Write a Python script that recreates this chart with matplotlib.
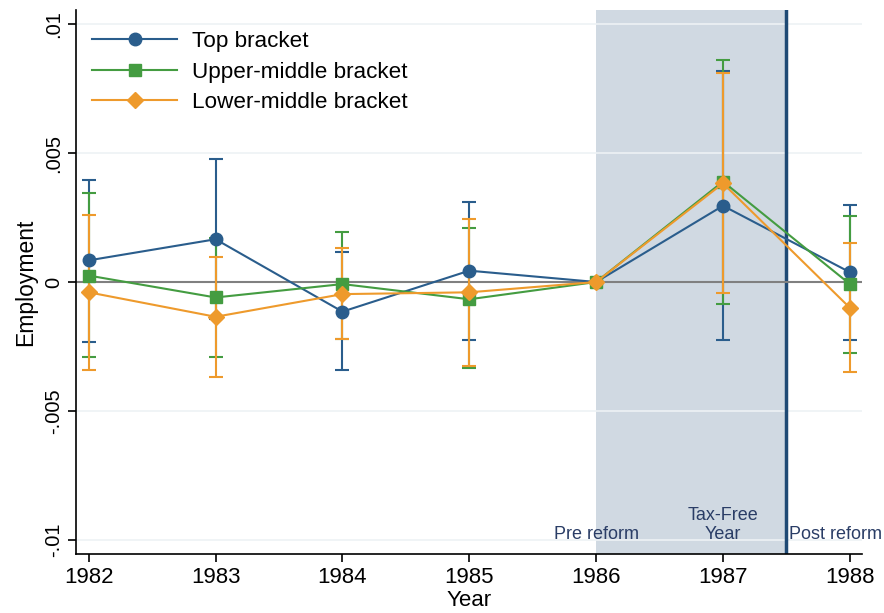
import matplotlib
matplotlib.use("Agg")
import matplotlib.pyplot as plt
import numpy as np
from matplotlib.lines import Line2D

years = [1982, 1983, 1984, 1985, 1986, 1987, 1988]

top = [0.00084, 0.00166, -0.00115, 0.00044, 0.0, 0.00296, 0.00038]
top_hi = [0.00396, 0.00476, 0.00117, 0.00312, 0.0, 0.00818, 0.00299]
top_lo = [-0.00233, -0.00144, -0.00342, -0.00225, 0.0, -0.00225, -0.00225]

upper = [0.00025, -0.00060, -0.00008, -0.00067, 0.0, 0.00390, -0.00008]
upper_hi = [0.00344, 0.00169, 0.00195, 0.00208, 0.0, 0.00860, 0.00258]
upper_lo = [-0.00292, -0.00290, -0.00221, -0.00334, 0.0, -0.00087, -0.00274]

lower = [-0.00040, -0.00135, -0.00047, -0.00040, 0.0, 0.00383, -0.00100]
lower_hi = [0.00261, 0.00097, 0.00132, 0.00246, 0.0, 0.00813, 0.00153]
lower_lo = [-0.00340, -0.00369, -0.00221, -0.00326, 0.0, -0.00044, -0.00351]

series = [
    ("Top bracket", top, top_lo, top_hi, "#2a5d8c", "o", 9),
    ("Upper-middle bracket", upper, upper_lo, upper_hi, "#449c41", "s", 8),
    ("Lower-middle bracket", lower, lower_lo, lower_hi, "#ee9a2c", "D", 8),
]

plt.rcParams["font.family"] = ["Liberation Sans", "DejaVu Sans"]

fig = plt.figure(figsize=(8.84, 6.13), dpi=100)
ax = fig.add_axes([0.086, 0.0962, 0.889, 0.8875])

ax.axvspan(1986, 1987.5, color="#d0d9e2", zorder=0, lw=0)
ax.axvline(1987.5, color="#1f4a75", lw=2.5, zorder=1)
for g in [-0.01, -0.005, 0.005, 0.01]:
    ax.axhline(g, color="#edf2f5", lw=1.2, zorder=0.5)
ax.axhline(0, color="#808080", lw=1.5, zorder=1)

handles = []
for name, vals, lo, hi, col, mk, ms in series:
    v = np.array(vals)
    err = np.vstack([v - np.array(lo), np.array(hi) - v])
    mask = err.sum(axis=0) > 0
    ax.errorbar(np.array(years)[mask], v[mask], yerr=err[:, mask], fmt="none",
                ecolor=col, elinewidth=1.5, capsize=5, capthick=1.5, zorder=2)
    ax.plot(years, v, color=col, lw=1.5, marker=mk, ms=ms, zorder=3)
    handles.append(Line2D([], [], color=col, lw=1.5, marker=mk, ms=ms, label=name))

ax.set_xlim(1981.9, 1988.095)
ax.set_ylim(-0.01056, 0.01056)
ax.set_xticks(years)
ax.set_xticklabels([str(y) for y in years], fontsize=16)
ax.set_yticks([-0.01, -0.005, 0, 0.005, 0.01])
ax.set_yticklabels(["-.01", "-.005", "0", ".005", ".01"], rotation=90, va="center",
                   fontsize=14.5)
ax.tick_params(direction="out", length=6, width=1.2)
ax.set_xlabel("Year", fontsize=16, labelpad=1)
ax.set_ylabel("Employment", fontsize=16.5, labelpad=5)
for s in ["top", "right"]:
    ax.spines[s].set_visible(False)
for s in ["left", "bottom"]:
    ax.spines[s].set_linewidth(1.2)

txt = dict(fontsize=13, color="#2a3d66", zorder=4)
ax.text(1986, -0.01015, "Pre reform", ha="center", va="bottom", **txt)
ax.text(1987, -0.01015, "Tax-Free\nYear", ha="center", va="bottom", **txt)
ax.text(1987.52, -0.01015, "Post reform", ha="left", va="bottom", clip_on=False, **txt)

ax.legend(handles=handles, loc="upper left", frameon=False, fontsize=16.2,
          handlelength=3.8, handletextpad=0.65, bbox_to_anchor=(0.0, 0.99),
          borderaxespad=0.3, labelspacing=0.42)

fig.savefig("out.png", dpi=100)
